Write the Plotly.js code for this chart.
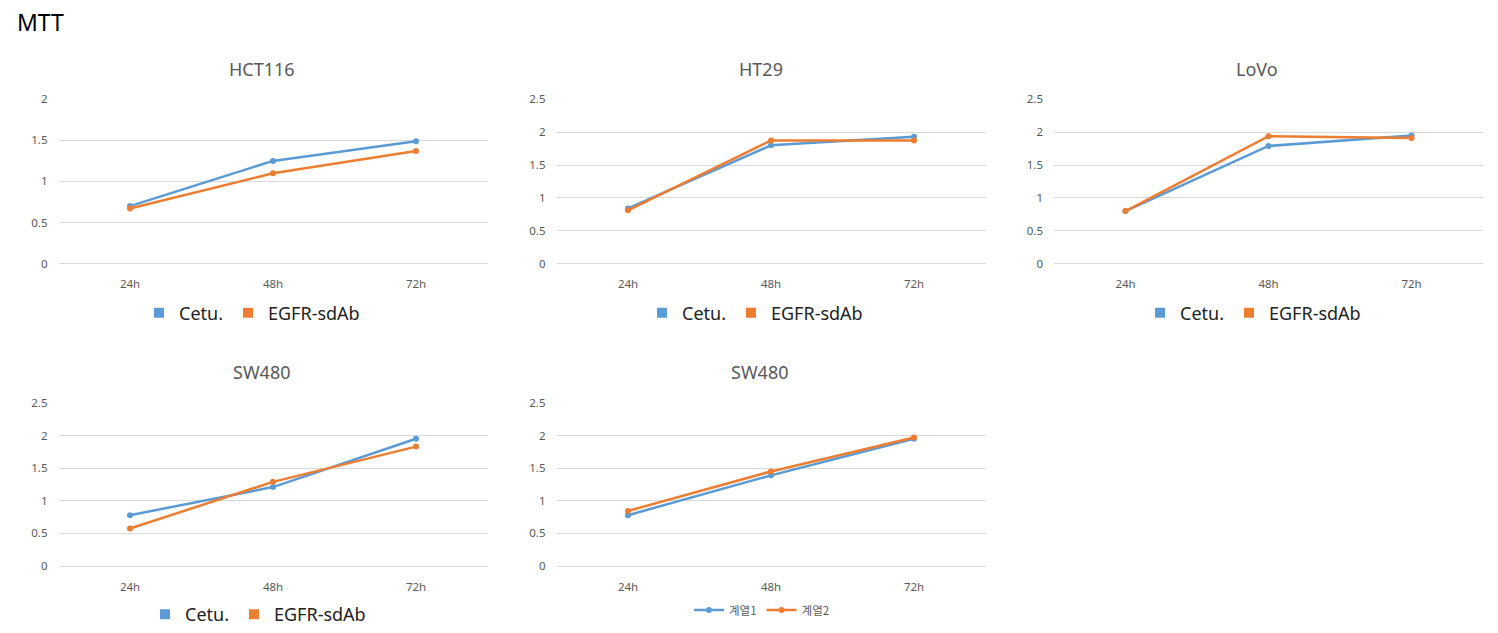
<!DOCTYPE html>
<html>
<head>
<meta charset="utf-8">
<script src="https://cdn.plot.ly/plotly-3.0.1.min.js"></script>
<style>html,body{margin:0;padding:0;background:#fff;}#chart{width:1498px;height:633px;}</style>
</head>
<body>
<div id="chart"></div>
<script>
// ---- data ----
const categories = ["24h", "48h", "72h"];
const panelTitles = ["HCT116", "HT29", "LoVo", "SW480", "SW480"];
const seriesNames = ["Cetu.", "EGFR-sdAb"];
const seriesNames5 = ["계열1", "계열2"];

const hct116Cetu = [0.70, 1.25, 1.49];
const hct116Egfr = [0.67, 1.10, 1.37];
const ht29Cetu = [0.84, 1.80, 1.93];
const ht29Egfr = [0.81, 1.875, 1.875];
const lovoCetu = [0.80, 1.79, 1.95];
const lovoEgfr = [0.80, 1.94, 1.91];
const sw480aCetu = [0.78, 1.21, 1.95];
const sw480aEgfr = [0.575, 1.29, 1.83];
const sw480bCetu = [0.78, 1.39, 1.95];
const sw480bEgfr = [0.845, 1.45, 1.97];

const yMax = [2, 2.5, 2.5, 2.5, 2.5];
const yDtick = 0.5;

// ---- styling / layout ----
const W = 1498, H = 633;
const BLUE = "#5B9BD5", ORANGE = "#ED7D31";
const FONT = "'Noto Sans', 'Noto Sans CJK KR', sans-serif";
const KFONT = "'Noto Sans CJK KR', 'Noto Sans', sans-serif";

const panels = [
  {cetu: hct116Cetu, egfr: hct116Egfr, xd: [58.5, 487.5], yd: [99.5, 264], titleX: 262, titleY: 69, legX: 252, legY: 313},
  {cetu: ht29Cetu, egfr: ht29Egfr, xd: [556.5, 985.5], yd: [99.5, 264], titleX: 761, titleY: 69, legX: 755, legY: 313},
  {cetu: lovoCetu, egfr: lovoEgfr, xd: [1054, 1483], yd: [99.5, 264], titleX: 1257, titleY: 69, legX: 1253, legY: 313},
  {cetu: sw480aCetu, egfr: sw480aEgfr, xd: [58.5, 487.5], yd: [403.5, 567], titleX: 262, titleY: 373, legX: 258, legY: 615},
  {cetu: sw480bCetu, egfr: sw480bEgfr, xd: [556.5, 985.5], yd: [403.5, 567], titleX: 760, titleY: 373, legX: 762, legY: 610}
];

const data = [];
const layout = {
  width: W, height: H,
  margin: {l: 0, r: 0, t: 0, b: 0},
  paper_bgcolor: "#fff", plot_bgcolor: "#fff",
  font: {family: FONT, color: "#595959"},
  showlegend: true,
  annotations: [
    {text: "MTT", x: 15 / W, y: 1 - 22 / H, xref: "paper", yref: "paper", xanchor: "left", yanchor: "middle",
     showarrow: false, font: {size: 23, color: "#000", family: FONT}}
  ]
};

panels.forEach((p, i) => {
  const n = i + 1;
  const xa = n === 1 ? "x" : "x" + n;
  const ya = n === 1 ? "y" : "y" + n;
  const lg = n === 1 ? "legend" : "legend" + n;
  const isLast = n === 5;
  const names = isLast ? seriesNames5 : seriesNames;
  [[p.cetu, BLUE, names[0]], [p.egfr, ORANGE, names[1]]].forEach(([vals, col, nm]) => {
    data.push({
      type: "scatter", mode: "lines+markers",
      x: categories, y: vals, name: nm,
      xaxis: xa, yaxis: ya, legend: lg,
      showlegend: isLast,
      line: {color: col, width: 2.5},
      marker: {color: col, size: 6, symbol: "circle"},
      hoverinfo: "x+y+name"
    });
  });
  if (!isLast) {
    [[BLUE, names[0]], [ORANGE, names[1]]].forEach(([col, nm]) => {
      data.push({
        type: "scatter", mode: "markers", x: [null], y: [null], name: nm,
        xaxis: xa, yaxis: ya, legend: lg, showlegend: true,
        marker: {color: col, size: 10, symbol: "square"}
      });
    });
  }
  layout["xaxis" + (n === 1 ? "" : n)] = {
    domain: [p.xd[0] / W, p.xd[1] / W], anchor: ya,
    type: "category", range: [-0.5, 2.5],
    showgrid: false, zeroline: false, showline: false, ticks: "",
    ticklabelstandoff: 12,
    tickfont: {size: 11.5, color: "#595959", family: FONT}, fixedrange: true
  };
  layout["yaxis" + (n === 1 ? "" : n)] = {
    domain: [1 - p.yd[1] / H, 1 - p.yd[0] / H], anchor: xa,
    range: [0, yMax[i]], dtick: yDtick, tick0: 0,
    showgrid: true, gridcolor: "#d9d9d9", gridwidth: 1,
    zeroline: true, zerolinecolor: "#d9d9d9", zerolinewidth: 1,
    showline: false, ticks: "", ticklabelstandoff: 10,
    tickfont: {size: 11.5, color: "#595959", family: FONT}, fixedrange: true
  };
  layout[lg] = {
    orientation: "h", x: p.legX / W, y: 1 - p.legY / H,
    xanchor: "center", yanchor: "middle",
    bgcolor: "rgba(0,0,0,0)",
    font: isLast ? {size: 11.5, color: "#595959", family: KFONT} : {size: 18, color: "#222", family: FONT},
    itemwidth: 30, tracegroupgap: 0
  };
  layout.annotations.push({
    text: panelTitles[i], x: p.titleX / W, y: 1 - p.titleY / H, xref: "paper", yref: "paper",
    xanchor: "center", yanchor: "middle", showarrow: false,
    font: {size: 18, color: "#595959", family: FONT}
  });
});

Plotly.newPlot("chart", data, layout, {displayModeBar: false, staticPlot: true});
</script>
</body>
</html>
